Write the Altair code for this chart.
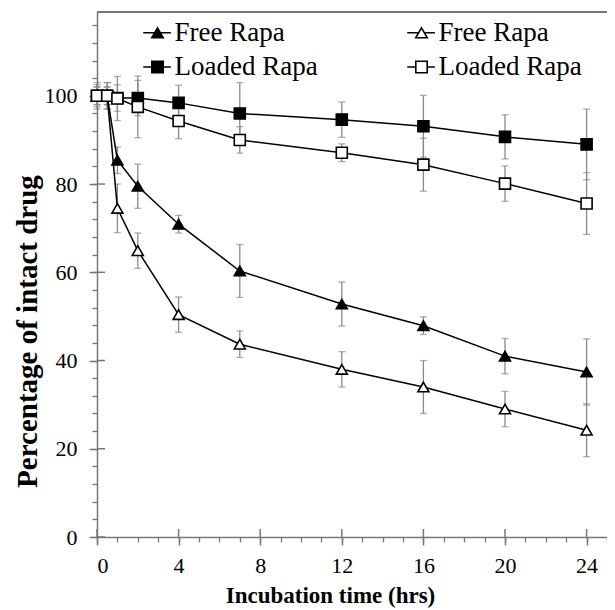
import altair as alt
import pandas as pd

# ---- data ----
time_hrs = [0, 0.5, 1, 2, 4, 7, 12, 16, 20, 24]

free_filled = [100, 100, 85.4, 79.5, 70.9, 60.3, 52.8, 47.9, 41.0, 37.4]
free_filled_err = [2, 2, 3, 5, 2, 6, 5, 2, 4, 7.5]
free_open = [100, 100, 74.5, 64.9, 50.4, 43.7, 38.0, 34.0, 29.0, 24.2]
free_open_err = [2, 2, 5.5, 4, 4, 3, 4, 6, 4, 6]
loaded_filled = [100, 100, 99.5, 99.5, 98.4, 96.0, 94.6, 93.1, 90.7, 89.0]
loaded_filled_err = [3, 3, 3, 4, 4, 7, 4, 7, 5, 8]
loaded_open = [100, 100, 99.4, 97.5, 94.3, 90.0, 87.1, 84.4, 80.1, 75.6]
loaded_open_err = [2.5, 3, 5, 7, 4, 3, 2, 6, 4, 7]

series_keys = ["Free Rapa|filled", "Free Rapa|open", "Loaded Rapa|filled", "Loaded Rapa|open"]
series_vals = [free_filled, free_open, loaded_filled, loaded_open]
series_errs = [free_filled_err, free_open_err, loaded_filled_err, loaded_open_err]

x_major = [0, 4, 8, 12, 16, 20, 24]
x_minor = list(range(0, 26))
y_major = [0, 20, 40, 60, 80, 100]
y_minor = list(range(0, 120, 4))

# ---- styling ----
W, H = 510, 525
FONT = "Liberation Serif"
AX = "#777777"
shapes = ["triangle-up", "triangle-up", "square", "square"]
fills = ["black", "white", "black", "white"]
strokes = ["black", "black", "black", "black"]
tri_path = "M-2.5,0H-0.5M0.5,0H2.35M0,-0.866L1,0.866H-1Z"
sq_path = "M-2.5,0H-1M1,0H2.35M-1,-1H1V1H-1Z"
legend_paths = [tri_path, tri_path, sq_path, sq_path]

rows = []
for key, vals, errs in zip(series_keys, series_vals, series_errs):
    for t, v, e in zip(time_hrs, vals, errs):
        rows.append({"series": key, "t": t, "pct": v, "lo": v - e, "hi": v + e})
df = pd.DataFrame(rows)

xs = alt.Scale(domain=[0, 25], nice=False, zero=False)
ys = alt.Scale(domain=[0, 119], nice=False)

base = alt.Chart(df)

errbars = base.mark_errorbar(ticks=True, size=7, thickness=1.3, color="#8a8a8a").encode(
    x=alt.X("t:Q", scale=xs, axis=None),
    y=alt.Y("lo:Q", scale=ys, axis=None),
    y2="hi:Q",
    detail="series:N",
)

lines = base.mark_line(color="black", strokeWidth=1.5).encode(
    x=alt.X("t:Q", scale=xs, axis=alt.Axis(
        values=x_major, orient="bottom", tickSize=8, tickColor=AX, tickWidth=1.5,
        domainColor=AX, domainWidth=1.5, grid=False,
        labelFont=FONT, labelFontSize=22, labelColor="black", labelPadding=10,
        title="Incubation time (hrs)", titleFont=FONT, titleFontSize=23,
        titleFontWeight="bold", titleColor="black", titleX=233, titleY=65,
        titleAlign="center", titleBaseline="alphabetic")),
    y=alt.Y("pct:Q", scale=ys, axis=alt.Axis(
        values=y_major, orient="left", tickSize=8, tickColor=AX, tickWidth=1.5,
        domainColor=AX, domainWidth=1.5, grid=False,
        labelFont=FONT, labelFontSize=22, labelColor="black", labelPadding=12,
        title="Percentage of intact drug", titleFont=FONT, titleFontSize=29,
        titleFontWeight="bold", titleColor="black", titleX=-70, titleY=319,
        titleAlign="center", titleBaseline="middle", titleAngle=270)),
    detail="series:N",
    order="t:Q",
)

points = base.mark_point(filled=True, size=121, stroke="black", strokeWidth=1.6, opacity=1).encode(
    x=alt.X("t:Q", scale=xs, axis=alt.Axis(
        values=x_minor, orient="bottom", tickSize=5, tickColor=AX, tickWidth=1.3,
        labels=False, domain=False, grid=False, title=None)),
    y=alt.Y("pct:Q", scale=ys, axis=alt.Axis(
        values=y_minor, orient="left", tickSize=5, tickColor=AX, tickWidth=1.3,
        labels=False, domain=False, grid=False, title=None)),
    shape=alt.Shape("series:N", scale=alt.Scale(domain=series_keys, range=shapes), legend=None),
    fill=alt.Fill("series:N", scale=alt.Scale(domain=series_keys, range=fills), legend=None),
)

legend_def = dict(
    orient="none", legendX=47, legendY=7, columns=2, direction="horizontal",
    columnPadding=86, rowPadding=6.5, padding=0, title=None,
    labelFont=FONT, labelFontSize=27, labelColor="black",
    labelOffset=3.5, symbolSize=130, symbolStrokeWidth=1.6, symbolOpacity=1,
    labelExpr="split(datum.label, '|')[0]",
)

legend_layer = base.transform_filter("false").mark_point(
    filled=True, size=130, strokeWidth=1.6, opacity=1
).encode(
    x=alt.X("t:Q", scale=xs, axis=None),
    y=alt.Y("pct:Q", scale=ys, axis=None),
    shape=alt.Shape("series:N", scale=alt.Scale(domain=series_keys, range=legend_paths),
                    legend=alt.Legend(**legend_def)),
    fill=alt.Fill("series:N", scale=alt.Scale(domain=series_keys, range=fills),
                  legend=alt.Legend(**legend_def)),
    stroke=alt.Stroke("series:N", scale=alt.Scale(domain=series_keys, range=strokes),
                      legend=alt.Legend(**legend_def)),
)

xt = pd.DataFrame({"v": x_major})
yt = pd.DataFrame({"v": y_major})
x_inner = alt.Chart(xt).mark_rule(color=AX, strokeWidth=1.5).encode(
    x=alt.X("v:Q", scale=xs, axis=None), y=alt.value(H), y2=alt.value(H - 8))
y_inner = alt.Chart(yt).mark_rule(color=AX, strokeWidth=1.5).encode(
    y=alt.Y("v:Q", scale=ys, axis=None), x=alt.value(0), x2=alt.value(8))
top_rule = alt.Chart(xt).mark_rule(color=AX, strokeWidth=1.5).encode(
    x=alt.value(0), x2=alt.value(W), y=alt.value(0))

chart = alt.layer(
    top_rule, x_inner, y_inner, errbars, lines, points, legend_layer
).resolve_scale(
    shape="independent", fill="independent", stroke="independent"
).resolve_axis(
    x="independent", y="independent"
).properties(
    width=W, height=H,
    autosize=alt.AutoSizeParams(type="none"),
    padding={"left": 89, "top": 4, "right": 0, "bottom": 72},
    background="white",
).configure_view(stroke=None)

chart.save("out.html", embed_options={"renderer": "svg", "actions": False})
